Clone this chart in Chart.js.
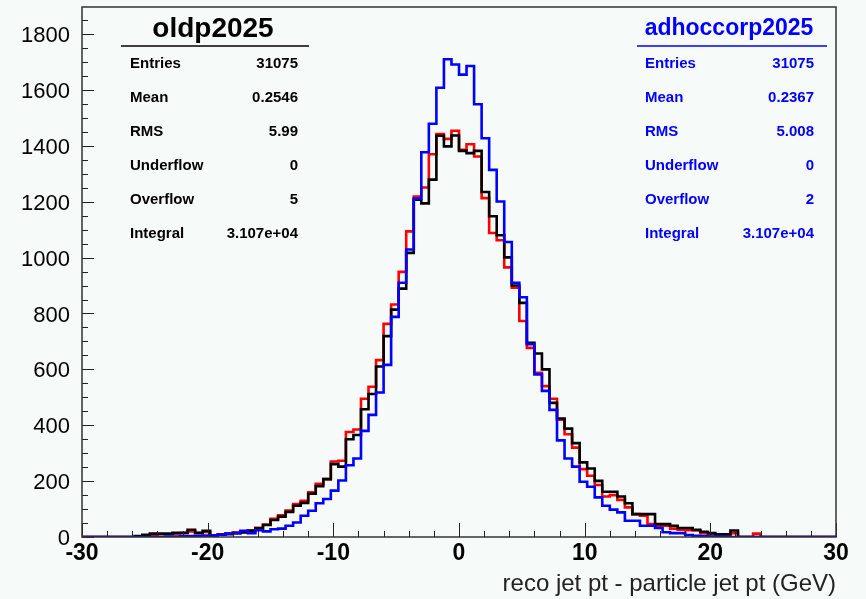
<!DOCTYPE html>
<html>
<head>
<meta charset="utf-8">
<script src="https://cdn.jsdelivr.net/npm/chart.js@4.4.1/dist/chart.umd.min.js"></script>
<style>
  html, body { margin: 0; padding: 0; background: #f6faf8; }
  canvas { display: block; }
</style>
</head>
<body>
<canvas id="jetPt" width="866" height="599"></canvas>
<script>
// 100 bins from -30 to 30 GeV
const xMin = -30;
const xMax = 30;
const binWidth = 0.6;

// red histogram (no stats box)
const refCounts = [
    0, 0, 0, 0, 0, 0, 0, 0, 2, 6,
    10, 10, 12, 14, 20, 14, 18, 6, 10, 12,
    16, 18, 24, 33, 45, 65, 78, 95, 118, 130,
    160, 190, 207, 270, 273, 376, 385, 495, 538, 633,
    763, 832, 949, 1094, 1219, 1251, 1370, 1442, 1425, 1454,
    1386, 1406, 1362, 1213, 1088, 1062, 965, 892, 773, 677,
    588, 540, 495, 420, 368, 320, 243, 219, 186, 145,
    150, 133, 106, 82, 76, 46, 40, 40, 30, 26,
    24, 23, 14, 10, 7, 7, 14, 0, 0, 12,
    0, 0, 0, 0, 0, 0, 0, 0, 0, 0
];

// black histogram: oldp2025
const oldpCounts = [
    0, 0, 0, 0, 0, 0, 0, 3, 8, 12,
    12, 12, 15, 15, 26, 15, 22, 4, 8, 10,
    14, 16, 22, 31, 43, 61, 73, 90, 112, 122,
    155, 182, 207, 261, 252, 350, 365, 457, 512, 610,
    719, 814, 889, 1017, 1207, 1194, 1279, 1436, 1398, 1437,
    1382, 1374, 1382, 1235, 1148, 1080, 1001, 900, 838, 695,
    657, 600, 480, 424, 388, 336, 267, 245, 201, 162,
    162, 145, 121, 82, 82, 82, 46, 46, 40, 32,
    32, 26, 19, 14, 10, 10, 23, 0, 0, 0,
    0, 0, 0, 0, 0, 0, 0, 0, 0, 0
];

// blue histogram: adhoccorp2025
const adhocCounts = [
    0, 0, 0, 0, 0, 0, 0, 0, 0, 0,
    0, 2, 2, 3, 3, 4, 5, 6, 8, 12,
    14, 22, 14, 24, 20, 28, 30, 40, 52, 76,
    94, 121, 136, 166, 202, 257, 281, 380, 437, 517,
    616, 788, 910, 1029, 1211, 1377, 1479, 1608, 1710, 1691,
    1655, 1686, 1549, 1427, 1314, 1201, 1056, 910, 858, 690,
    582, 523, 455, 346, 281, 252, 198, 180, 142, 112,
    98, 88, 58, 58, 40, 40, 32, 17, 14, 14,
    7, 4, 3, 2, 2, 1, 0, 0, 0, 0,
    0, 0, 0, 0, 0, 0, 0, 0, 0, 0
];

const yTickLabels = ['0', '200', '400', '600', '800', '1000', '1200', '1400', '1600', '1800'];
const xTickLabels = ['-30', '-20', '-10', '0', '10', '20', '30'];

const oldpStats = [
    ['Entries', '31075'],
    ['Mean', '0.2546'],
    ['RMS', '5.99'],
    ['Underflow', '0'],
    ['Overflow', '5'],
    ['Integral', '3.107e+04']
];
const adhocStats = [
    ['Entries', '31075'],
    ['Mean', '0.2367'],
    ['RMS', '5.008'],
    ['Underflow', '0'],
    ['Overflow', '2'],
    ['Integral', '3.107e+04']
];

const FONT = '"Liberation Sans", Arial, Helvetica, sans-serif';

// histogram outline: one point per bin lower edge, plus closing point at xMax
function toSteps(counts) {
    const pts = counts.map((c, i) => ({ x: xMin + i * binWidth, y: c }));
    pts.push({ x: xMax, y: counts[counts.length - 1] });
    return pts;
}

function drawStatsBox(ctx, title, rows, color, box) {
    ctx.fillStyle = color;
    ctx.strokeStyle = color;
    ctx.textBaseline = 'middle';
    ctx.textAlign = 'center';
    ctx.font = `bold ${box.titleSize}px ${FONT}`;
    ctx.fillText(title, box.titleX, 29);
    ctx.lineWidth = 1.5;
    ctx.beginPath();
    ctx.moveTo(box.lineLeft, 46);
    ctx.lineTo(box.lineRight, 46);
    ctx.stroke();
    ctx.font = `bold 15px ${FONT}`;
    rows.forEach((r, i) => {
        const y = 64 + i * 34;
        ctx.textAlign = 'left';
        ctx.fillText(r[0], box.labelX, y);
        ctx.textAlign = 'right';
        ctx.fillText(r[1], box.valueX, y);
    });
}

const rootStyle = {
    id: 'rootStyle',
    afterDraw(chart) {
        const { ctx, chartArea: a, scales: { x, y } } = chart;
        ctx.save();

        // inward ticks like ROOT
        ctx.strokeStyle = '#222';
        ctx.lineWidth = 1;
        for (let v = 0; v <= 1850; v += 50) {
            const py = Math.round(y.getPixelForValue(v)) + 0.5;
            const len = v % 200 === 0 ? 12 : 6;
            ctx.beginPath();
            ctx.moveTo(a.left, py);
            ctx.lineTo(a.left + len, py);
            ctx.stroke();
        }
        for (let v = xMin; v <= xMax; v += 2) {
            const px = Math.round(x.getPixelForValue(v)) + 0.5;
            const len = v % 10 === 0 ? 14 : 6;
            ctx.beginPath();
            ctx.moveTo(px, a.bottom);
            ctx.lineTo(px, a.bottom - len);
            ctx.stroke();
        }

        // frame
        ctx.strokeStyle = '#333';
        ctx.lineWidth = 1.5;
        ctx.strokeRect(a.left, a.top, a.right - a.left, a.bottom - a.top);

        drawStatsBox(ctx, 'oldp2025', oldpStats, '#000', {
            titleSize: 28, titleX: 213, lineLeft: 121, lineRight: 309, labelX: 130, valueX: 298
        });
        drawStatsBox(ctx, 'adhoccorp2025', adhocStats, '#0000ff', {
            titleSize: 23, titleX: 729, lineLeft: 637, lineRight: 827, labelX: 645, valueX: 814
        });

        // x axis title
        ctx.fillStyle = '#222';
        ctx.font = `24px ${FONT}`;
        ctx.textAlign = 'right';
        ctx.textBaseline = 'alphabetic';
        ctx.fillText('reco jet pt - particle jet pt (GeV)', a.right, 591);

        ctx.restore();
    }
};

const ctx = document.getElementById('jetPt').getContext('2d');

new Chart(ctx, {
    type: 'line',
    data: {
        datasets: [
            { label: 'adhoccorp2025', data: toSteps(adhocCounts), borderColor: '#0000ff' },
            { label: 'oldp2025', data: toSteps(oldpCounts), borderColor: '#000000' },
            { label: 'ref', data: toSteps(refCounts), borderColor: '#ff0000' }
        ].map(d => Object.assign(d, {
            stepped: true,
            borderWidth: 2.6,
            pointRadius: 0,
            fill: false,
            tension: 0,
            borderJoinStyle: 'miter'
        }))
    },
    options: {
        responsive: false,
        animation: false,
        layout: { padding: { top: 7, right: 30, left: 0, bottom: 0 } },
        plugins: {
            legend: { display: false },
            tooltip: { enabled: false }
        },
        scales: {
            x: {
                type: 'linear',
                min: xMin,
                max: xMax,
                grid: { display: false, drawTicks: false },
                border: { display: false },
                ticks: {
                    stepSize: 10,
                    autoSkip: false,
                    maxRotation: 0,
                    includeBounds: false,
                    padding: 3,
                    color: '#000',
                    font: { family: FONT, size: 23, weight: 'bold' },
                    callback: v => xTickLabels[xTickLabels.indexOf(String(v))] ?? ''
                },
                afterFit: s => { s.height = 62; }
            },
            y: {
                min: 0,
                max: 1897,
                grid: { display: false, drawTicks: false },
                border: { display: false },
                ticks: {
                    stepSize: 200,
                    autoSkip: false,
                    includeBounds: false,
                    padding: 12,
                    labelOffset: 2,
                    color: '#000',
                    font: { family: FONT, size: 22 },
                    callback: v => yTickLabels[yTickLabels.indexOf(String(v))] ?? ''
                },
                afterFit: s => {
                    s.width = 82;
                    s.paddingTop = 0;
                    s.paddingBottom = 0;
                }
            }
        }
    },
    plugins: [rootStyle]
});
</script>
</body>
</html>
